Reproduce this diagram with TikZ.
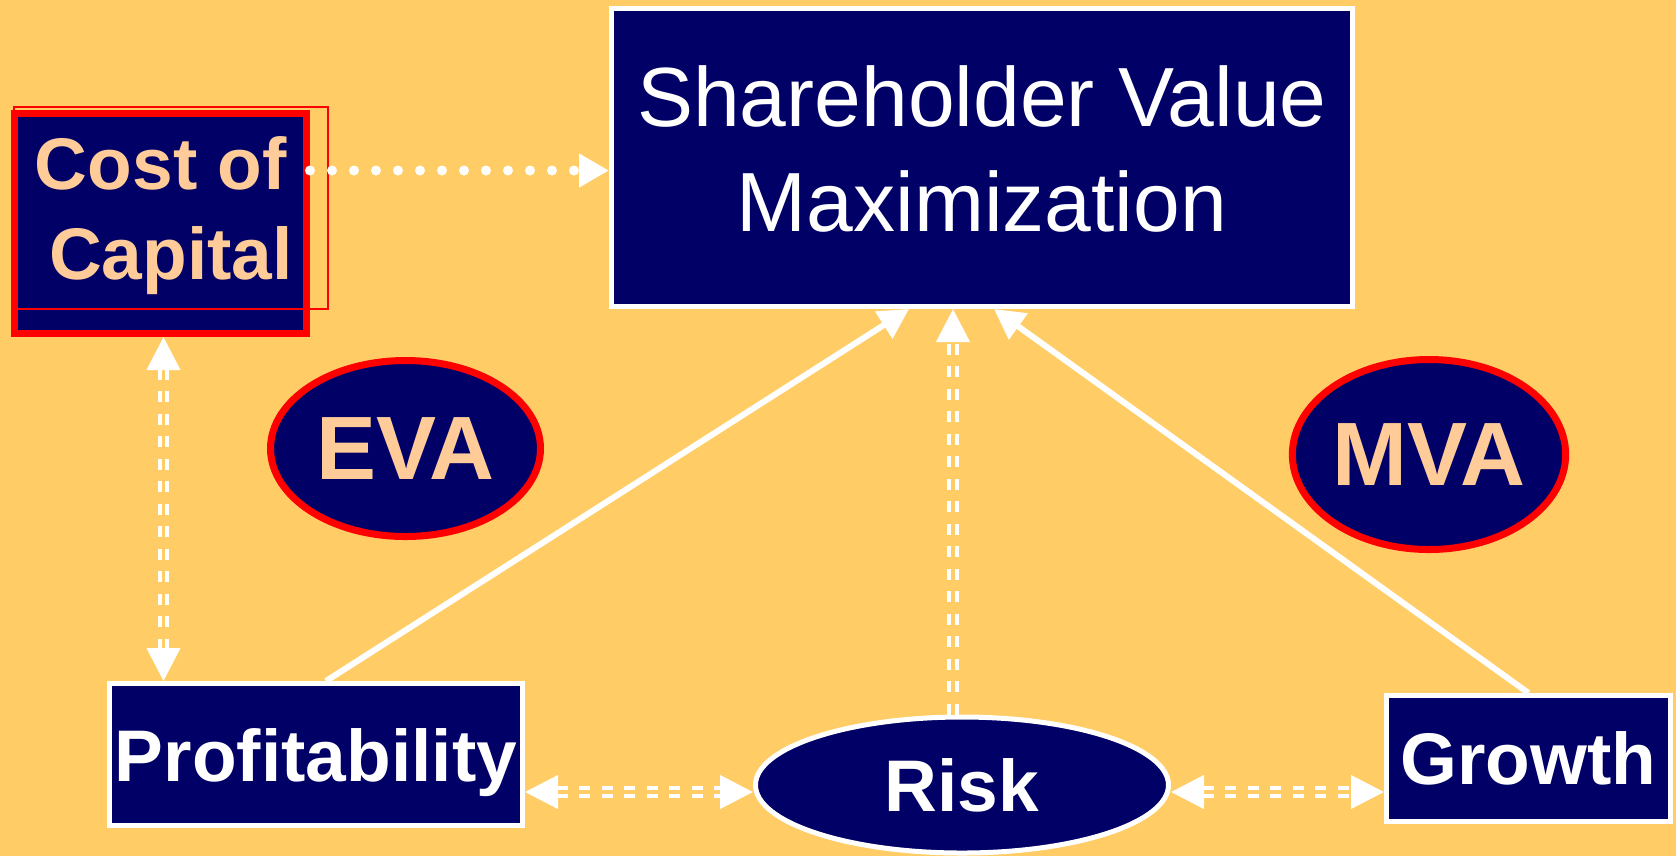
\documentclass[tikz,border=0pt]{standalone}
\usepackage{fontspec}
\setmainfont{Liberation Sans}
\usepackage{tikz}
\usetikzlibrary{arrows.meta, shapes.geometric}
\definecolor{bgyellow}{HTML}{FFCC66}
\definecolor{navy}{HTML}{000066}
\definecolor{peach}{HTML}{FFCC99}
\tikzset{>={Triangle[length=0.33cm, width=0.33cm]}}
\tikzset{
whitebox/.style={rectangle, draw=white, line width=0.05cm, fill=navy, text=white, inner sep=0pt},
whiteoval/.style={ellipse, draw=white, line width=0.05cm, fill=navy, text=white, inner sep=0pt},
redoval/.style={ellipse, draw=red, line width=0.07cm, fill=navy, text=peach, inner sep=0pt, font=\fontsize{25.6}{30}\selectfont\bfseries},
boldtext/.style={font=\fontsize{20.8}{25.6}\selectfont\bfseries},
dashlink/.style={draw=white, line width=0.042cm, double=bgyellow, double distance=0.035cm, dash pattern=on 0.11cm off 0.115cm},
solidlink/.style={draw=white, line width=0.06cm, -{Triangle[length=0.3cm, width=0.31cm]}},
dotlink/.style={draw=white, line width=0.1cm, line cap=round, dash pattern=on 0pt off 0.22cm, -{Triangle[length=0.3cm, width=0.32cm]}}
}

\begin{document}
\begin{tikzpicture}
\fill[bgyellow] (0,0) rectangle (16.76,-8.56);
\useasboundingbox (0,0) rectangle (16.76,-8.56);

\node[whitebox, minimum width=7.41cm, minimum height=2.98cm, align=center,
  font=\fontsize{23.9}{29.9}\selectfont] (svm) at (9.82,-1.575)
  {Shareholder Value\\Maximization\vphantom{g}};
\node[rectangle, draw=red, line width=0.07cm, fill=navy, minimum width=2.92cm,
  minimum height=2.20cm, inner sep=0pt] (coc) at (1.605,-2.235) {};
\node[rectangle, draw=red, line width=0.02cm, minimum width=3.14cm, minimum height=2.02cm,
  inner sep=0pt, boldtext, text=peach, align=center] (coctext) at (1.71,-2.08)
  {\rule{0pt}{0.69cm}Cost of\hphantom{i}\\Capital};
\node[whitebox, boldtext, minimum width=4.13cm, minimum height=1.42cm, text depth=0pt]
  (prof) at (3.16,-7.545) {Profitability};
\node[whitebox, boldtext, minimum width=2.84cm, minimum height=1.26cm]
  (grow) at (15.285,-7.585) {Growth};
\node[whiteoval, boldtext, minimum width=4.13cm, minimum height=1.36cm]
  (risk) at (9.62,-7.85) {Risk};
\node[redoval, minimum width=2.70cm, minimum height=1.76cm] (eva) at (4.055,-4.485) {EVA};
\node[redoval, minimum width=2.69cm, minimum height=1.90cm] (mva) at (14.29,-4.545) {MVA};

\coordinate (rl) at ([yshift=-0.7mm]risk.west);
\coordinate (rr) at ([yshift=-0.7mm]risk.east);
\coordinate (rt) at ([xshift=-0.9mm]risk.north);

\draw[dotlink] ([yshift=0.53cm]coc.east) -- ([yshift=0.53cm]coc.east -| svm.west);
\draw[dashlink, <->] ([xshift=0.3mm]coc.south) -- ([xshift=0.3mm]coc.south |- prof.north);
\draw[dashlink, <->] (rl -| prof.east) -- (rl);
\draw[dashlink, <->] (rr) -- (rr -| grow.west);
\draw[dashlink, ->] (rt) -- (rt |- svm.south);
\draw[solidlink] ([xshift=0.1cm]prof.north) -- ([xshift=-0.73cm]svm.south);
\draw[solidlink] (grow.north) -- ([xshift=0.12cm]svm.south);
\end{tikzpicture}
\end{document}
